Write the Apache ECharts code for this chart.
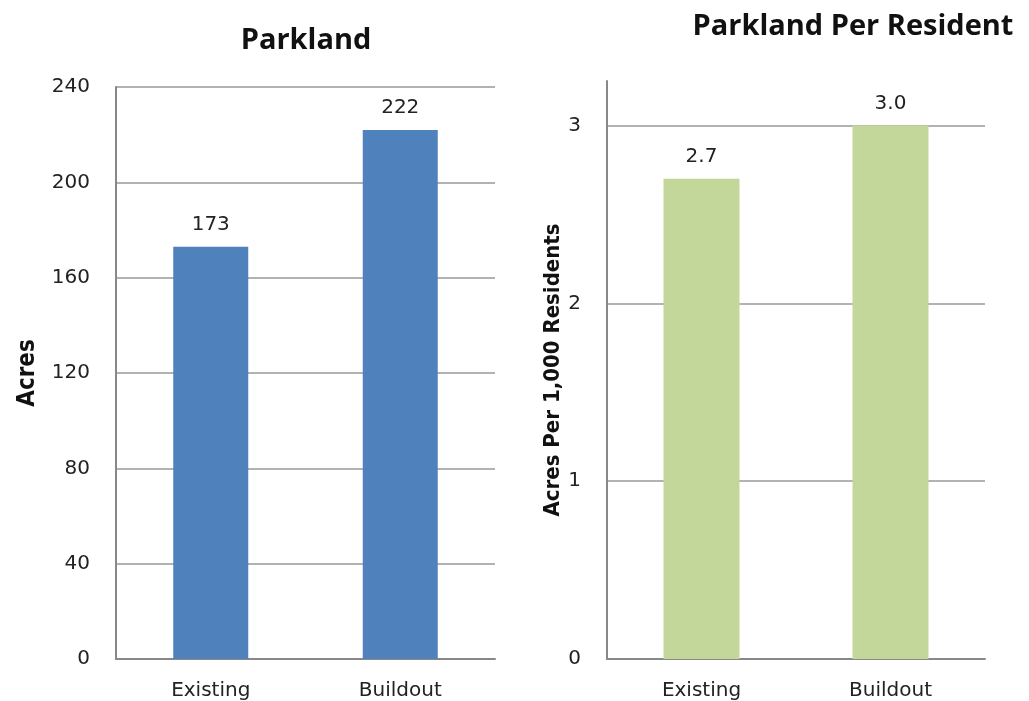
<!DOCTYPE html>
<html lang="en">
<head>
    <meta charset="UTF-8">
    <title>Parkland</title>
    <script src="https://cdn.jsdelivr.net/npm/echarts@6/dist/echarts.min.js"></script>
    <style>
        html,body{
            height:100%;
            width:100%;
            margin:0;
            padding:0;
            background:#fff;
        }
    </style>
</head>
<body>
    <div id="main" style="width:1029px;height:701px"></div>
    <script>
        // data
        var categories = ['Existing', 'Buildout'];
        var acres = [173, 222];
        var acresPerThousand = [2.7, 3.0];

        var textFont = 'DejaVu Sans';
        var titleFont = 'Open Sans';
        var nameFont = '"Liberation Sans Narrow", "DejaVu Sans Condensed", sans-serif';

        let myChart = echarts.init(document.getElementById('main'));

        var option = {
            animation: false,
            title: [{
                text: 'Parkland',
                left: 301,
                top: 21,
                textAlign: 'center',
                textStyle: {fontFamily: titleFont, fontSize: 29, fontWeight: 'bold', color: '#111'}
            }, {
                text: 'Parkland Per Resident',
                left: 848,
                top: 7,
                textAlign: 'center',
                textStyle: {fontFamily: titleFont, fontSize: 29, fontWeight: 'bold', color: '#111'}
            }],
            grid: [
                {left: 116, right: 534, top: 87, bottom: 42},
                {left: 607, right: 44, top: 81, bottom: 42}
            ],
            xAxis: [{
                type: 'category', gridIndex: 0, data: categories,
                axisLine: {lineStyle: {color: '#888', width: 2}},
                axisTick: {show: false},
                axisLabel: {fontFamily: textFont, fontSize: 20, color: '#222', margin: 22}
            }, {
                type: 'category', gridIndex: 1, data: categories,
                axisLine: {lineStyle: {color: '#888', width: 2}},
                axisTick: {show: false},
                axisLabel: {fontFamily: textFont, fontSize: 20, color: '#222', margin: 22}
            }],
            yAxis: [{
                type: 'value', gridIndex: 0, min: 0, max: 240, interval: 40,
                name: 'Acres', nameLocation: 'middle', nameGap: 76,
                nameTextStyle: {fontFamily: nameFont, fontSize: 24, fontWeight: 'bold', color: '#111'},
                axisLine: {show: true, lineStyle: {color: '#888', width: 2}},
                axisTick: {show: false},
                axisLabel: {fontFamily: textFont, fontSize: 20, color: '#222', margin: 26},
                splitLine: {lineStyle: {color: '#999', width: 1.5}}
            }, {
                type: 'value', gridIndex: 1, min: 0, max: 3.25, interval: 1,
                name: 'Acres Per 1,000 Residents', nameLocation: 'middle', nameGap: 40,
                nameTextStyle: {fontFamily: nameFont, fontSize: 22, fontWeight: 'bold', color: '#111'},
                axisLine: {show: true, lineStyle: {color: '#888', width: 2}},
                axisTick: {show: false},
                axisLabel: {fontFamily: textFont, fontSize: 20, color: '#222', margin: 26, showMaxLabel: false},
                splitLine: {showMaxLine: false, lineStyle: {color: '#999', width: 1.5}}
            }],
            series: [{
                type: 'bar', xAxisIndex: 0, yAxisIndex: 0,
                data: acres,
                barWidth: 75,
                itemStyle: {color: '#4F81BD'},
                label: {show: true, position: 'top', distance: 12, fontFamily: textFont, fontSize: 20, color: '#222'}
            }, {
                type: 'bar', xAxisIndex: 1, yAxisIndex: 1,
                data: acresPerThousand,
                barWidth: 76,
                itemStyle: {color: '#C4D79B'},
                label: {
                    show: true, position: 'top', distance: 12, fontFamily: textFont, fontSize: 20, color: '#222',
                    formatter: function (p) { return p.value.toFixed(1); }
                }
            }]
        };

        myChart.setOption(option);
    </script>
</body>
</html>
